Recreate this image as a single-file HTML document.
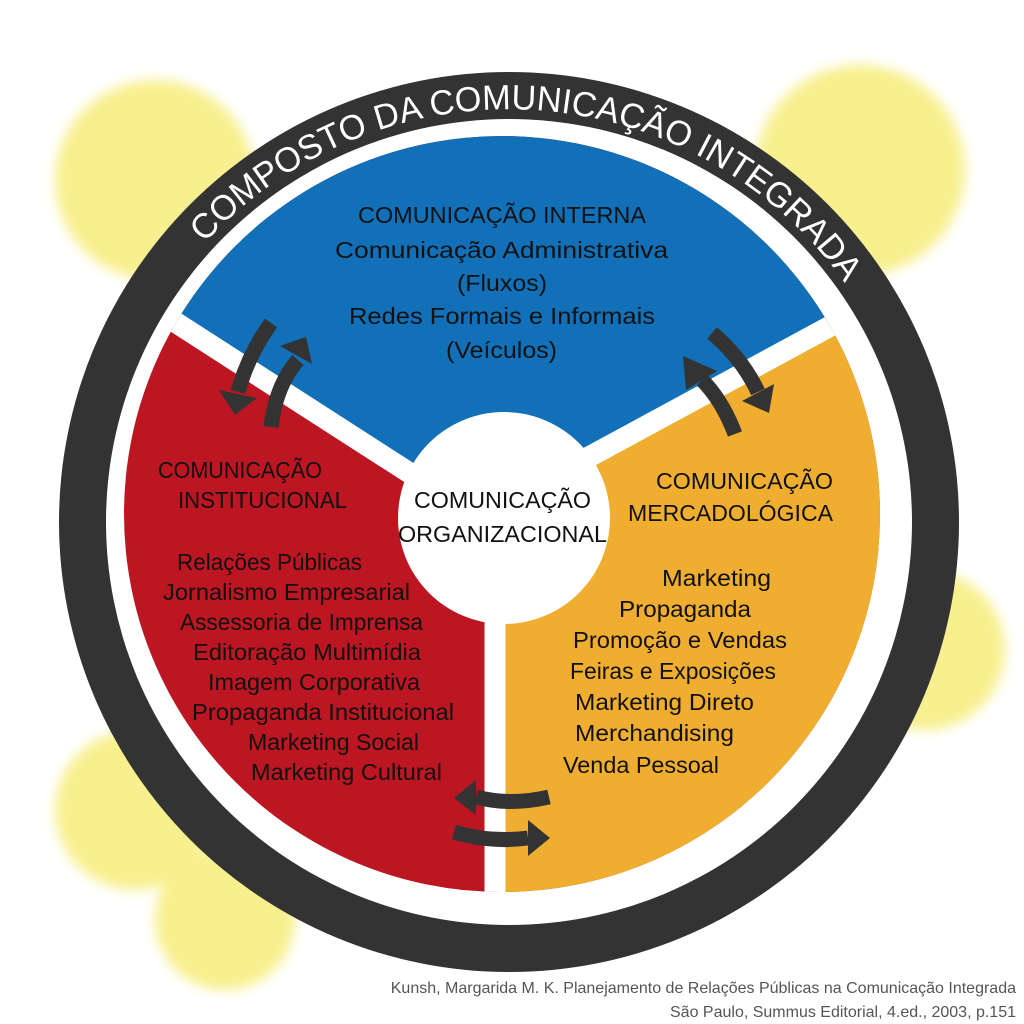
<!DOCTYPE html>
<html><head><meta charset="utf-8"><style>
html,body{margin:0;padding:0;background:#fff;}
svg{display:block;}
text{font-family:"Liberation Sans","DejaVu Sans",sans-serif;}
</style></head><body>
<svg width="1024" height="1024" viewBox="0 0 1024 1024" xmlns="http://www.w3.org/2000/svg">
<defs>
<filter id="bl" x="-50%" y="-50%" width="200%" height="200%"><feGaussianBlur stdDeviation="6"/></filter>
<clipPath id="disk"><circle cx="502" cy="514" r="378"/></clipPath>
<path id="arc" d="M204.6,243.2 A412,412 0 0 1 840.6,277.4"/>
</defs>
<g fill="#f8f08e" filter="url(#bl)">
<circle cx="155" cy="180" r="100"/>
<circle cx="860" cy="170" r="105"/>
<circle cx="925" cy="650" r="80"/>
<circle cx="135" cy="810" r="80"/>
<circle cx="225" cy="920" r="70"/>
</g>
<circle cx="509" cy="522" r="450" fill="#333333"/>
<circle cx="509" cy="522" r="403" fill="#ffffff"/>
<g clip-path="url(#disk)">
<rect x="100" y="100" width="820" height="820" fill="#bb1622"/>
<polygon points="478,517 -100,145 -100,-100 1100,-100 1100,180" fill="#1170b8"/>
<polygon points="478,517 1100,180 1100,1000 495,1000 495,517" fill="#f0ae30"/>
<g stroke="#fff" stroke-width="21">
<line x1="478" y1="517" x2="-100" y2="145"/>
<line x1="478" y1="517" x2="1100" y2="180"/>
<line x1="495" y1="517" x2="495" y2="1000"/>
</g>
</g>
<circle cx="504" cy="518" r="106" fill="#fff"/>
<text font-size="35" fill="#fff"><textPath href="#arc" textLength="735" lengthAdjust="spacingAndGlyphs">COMPOSTO DA COMUNICAÇÃO INTEGRADA</textPath></text>
<g fill="none" stroke="#333" stroke-width="15">
<path d="M271,323 Q248,355 238,392"/>
<path d="M271,427 Q276,385 298,360"/>
<path d="M712,333 Q742,358 758,392"/>
<path d="M735,434 Q722,400 702,380"/>
<path d="M549,797 Q510,806 476,797"/>
<path d="M454,832 Q490,843 528,838"/>
</g>
<g fill="#333">
<polygon points="257,398 219,390 235,415"/>
<polygon points="312,364 280,346 306,337"/>
<polygon points="774,384 742,401 769,413"/>
<polygon points="717,371 686,390 683,356"/>
<polygon points="476,780 476,815 454,798"/>
<polygon points="528,820 528,856 550,838"/>
</g>
<g fill="#111" font-size="23">
<text x="358" y="223" textLength="288" lengthAdjust="spacingAndGlyphs">COMUNICAÇÃO INTERNA</text>
<text x="335" y="258" textLength="333" lengthAdjust="spacingAndGlyphs">Comunicação Administrativa</text>
<text x="457" y="291" textLength="90" lengthAdjust="spacingAndGlyphs">(Fluxos)</text>
<text x="349" y="324" textLength="306" lengthAdjust="spacingAndGlyphs">Redes Formais e Informais</text>
<text x="446" y="358" textLength="111" lengthAdjust="spacingAndGlyphs">(Veículos)</text>
<text x="158" y="478" textLength="164" lengthAdjust="spacingAndGlyphs">COMUNICAÇÃO</text>
<text x="178" y="508" textLength="169" lengthAdjust="spacingAndGlyphs">INSTITUCIONAL</text>
<text x="414" y="508" textLength="177" lengthAdjust="spacingAndGlyphs">COMUNICAÇÃO</text>
<text x="398" y="542" textLength="209" lengthAdjust="spacingAndGlyphs">ORGANIZACIONAL</text>
<text x="656" y="489" textLength="177" lengthAdjust="spacingAndGlyphs">COMUNICAÇÃO</text>
<text x="628" y="521" textLength="205" lengthAdjust="spacingAndGlyphs">MERCADOLÓGICA</text>
<text x="177" y="570" textLength="185" lengthAdjust="spacingAndGlyphs">Relações Públicas</text>
<text x="163" y="600" textLength="247" lengthAdjust="spacingAndGlyphs">Jornalismo Empresarial</text>
<text x="180" y="630" textLength="243" lengthAdjust="spacingAndGlyphs">Assessoria de Imprensa</text>
<text x="193" y="660" textLength="228" lengthAdjust="spacingAndGlyphs">Editoração Multimídia</text>
<text x="208" y="690" textLength="212" lengthAdjust="spacingAndGlyphs">Imagem Corporativa</text>
<text x="192" y="720" textLength="262" lengthAdjust="spacingAndGlyphs">Propaganda Institucional</text>
<text x="248" y="750" textLength="171" lengthAdjust="spacingAndGlyphs">Marketing Social</text>
<text x="251" y="780" textLength="191" lengthAdjust="spacingAndGlyphs">Marketing Cultural</text>
<text x="662" y="586" textLength="109" lengthAdjust="spacingAndGlyphs">Marketing</text>
<text x="619" y="617" textLength="132" lengthAdjust="spacingAndGlyphs">Propaganda</text>
<text x="573" y="648" textLength="214" lengthAdjust="spacingAndGlyphs">Promoção e Vendas</text>
<text x="570" y="679" textLength="206" lengthAdjust="spacingAndGlyphs">Feiras e Exposições</text>
<text x="575" y="710" textLength="179" lengthAdjust="spacingAndGlyphs">Marketing Direto</text>
<text x="575" y="741" textLength="159" lengthAdjust="spacingAndGlyphs">Merchandising</text>
<text x="563" y="773" textLength="156" lengthAdjust="spacingAndGlyphs">Venda Pessoal</text>
</g>
<g fill="#555" font-size="16" text-anchor="end">
<text x="1016" y="993">Kunsh, Margarida M. K. Planejamento de Relações Públicas na Comunicação Integrada</text>
<text x="1016" y="1017">São Paulo, Summus Editorial, 4.ed., 2003, p.151</text>
</g>
</svg>
</body></html>
